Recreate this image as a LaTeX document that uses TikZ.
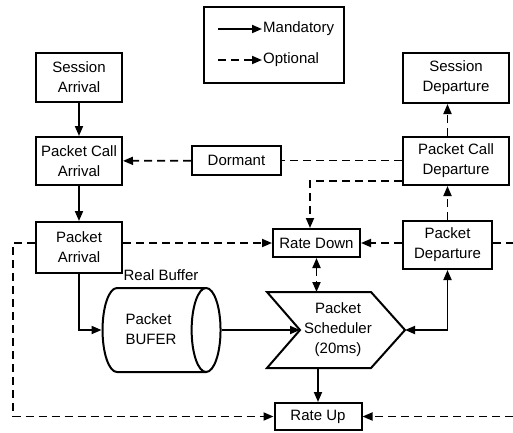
\documentclass[tikz,border=0pt]{standalone}
\usepackage{fontspec}
\setmainfont{Liberation Sans}
\usetikzlibrary{positioning, arrows.meta, shapes.geometric, calc}

\tikzset{
    box/.style={draw=black, line width=2pt, inner sep=0pt, align=center,
        font=\fontsize{15}{20}\selectfont},
    conn/.style={black, line width=1.8pt},
    dashconn/.style={conn, dash pattern=on 8pt off 5pt},
    arrowhd/.style={-{Triangle[length=10pt,width=8pt]}},
    botharrowhd/.style={{Triangle[length=10pt,width=8pt]}-{Triangle[length=10pt,width=8pt]}},
}

\begin{document}
\begin{tikzpicture}[x=1pt, y=-1pt]
    \useasboundingbox (0,0) rectangle (513,432);

    % state boxes
    \foreach \name/\cx/\cy/\w/\h/\txt in {
        sa/79/77.5/86/49/{Session\\Arrival},
        pca/79/161/86/48/{Packet Call\\Arrival},
        pa/79/247.5/86/51/{Packet\\Arrival},
        dormant/236.5/160.5/89/29/{Dormant},
        sd/456/78/106/50/{Session\\Departure},
        pcd/456/161/106/48/{Packet Call\\Departure},
        pd/447.5/245/89/48/{Packet\\Departure},
        rd/316.5/243/87/28/{Rate Down},
        ru/318/416.5/87/27/{Rate Up}}
    {
        \node[box, minimum width=\w pt, minimum height=\h pt] (\name) at (\cx,\cy) {\txt};
    }

    % legend
    \node[box, minimum width=140pt, minimum height=76pt] (legend) at (274,45) {};
    \coordinate (lgs) at (218,29);
    \coordinate (lgd) at (218,60);
    \node[right=2pt of lgs, xshift=42pt, inner sep=1pt, font=\fontsize{15}{20}\selectfont] (lgman) {Mandatory};
    \node[right=2pt of lgd, xshift=42pt, inner sep=1pt, font=\fontsize{15}{20}\selectfont] (lgopt) {Optional};
    \draw[conn, arrowhd] (lgs) -- (lgman.west);
    \draw[dashconn, arrowhd] (lgd) -- (lgopt.west);

    % buffer
    \node[draw, cylinder, line width=2pt, minimum width=84pt, minimum height=118pt,
        aspect=0.85, inner xsep=0pt, inner ysep=17pt] (bufer) at (148,330) {};
    \node[inner sep=0pt, align=left, font=\fontsize{15}{20}\selectfont] (buftxt) at (151,329)
        {Packet\\BUFER};
    \node[inner sep=1pt, font=\fontsize{15}{20}\selectfont] (buflbl) at (161,275) {Real Buffer};

    % scheduler
    \coordinate (schnw) at (267,292);
    \coordinate (schne) at (371,292);
    \coordinate (schtip) at (405,330);
    \coordinate (schse) at (371,368);
    \coordinate (schsw) at (267,368);
    \coordinate (schin) at (300,330);
    \draw[line width=2pt, line join=miter]
        (schnw) -- (schne) -- (schtip) -- (schse) -- (schsw) -- (schin) -- cycle;
    \node[inner sep=0pt, align=center, font=\fontsize{15}{20}\selectfont] (sch) at (338,330)
        {Packet\\Scheduler\\(20ms)};

    % turn points
    \coordinate (rdin) at (310,181);
    \coordinate (loopw) at (13,416.5);
    \coordinate (loopeout) at (513,243);
    \coordinate (loopein) at (513,416.5);

    % mandatory
    \draw[conn, arrowhd] (sa) -- (pca);
    \draw[conn, arrowhd] (pca) -- (pa);
    \draw[conn, arrowhd] (pa.south) |- (bufer.west);
    \draw[conn, arrowhd] (bufer.east |- schin) -- (schin);
    \draw[conn, botharrowhd] (pd.south) |- (schtip);
    \draw[conn, arrowhd] (ru.north |- schsw) -- (ru.north);

    % optional
    \draw[dashconn, arrowhd] (dormant) -- (pca);
    \draw[dashconn] (pcd.west |- dormant.east) -- (dormant.east);
    \draw[dashconn, arrowhd] (pcd.west |- rdin) -- (rdin) -- (rdin |- rd.north);
    \draw[dashconn, arrowhd] (pd.north |- pcd.north) -- (pd.north |- sd.south);
    \draw[dashconn, arrowhd] (pd.north) -- (pd.north |- pcd.south);
    \draw[dashconn, botharrowhd] (rd.south) -- (rd.south |- schnw);
    \draw[dashconn, arrowhd] (pa.east |- rd.west) -- (rd.west);
    \draw[dashconn, arrowhd] (pd.west |- rd.east) -- (rd.east);
    \draw[dashconn] (pd.east |- rd.east) -- (loopeout);
    \draw[dashconn, arrowhd] (loopein) -- (ru.east);
    \draw[dashconn, arrowhd] (pa.west |- rd.west) -| (loopw) -- (ru.west);
\end{tikzpicture}
\end{document}
